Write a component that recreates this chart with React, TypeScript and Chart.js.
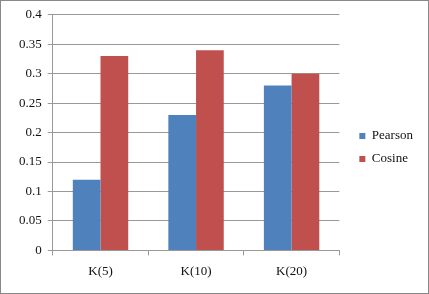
import React, { useEffect, useRef } from "react";
import { Chart, registerables } from "chart.js";

Chart.register(...registerables);

const categories = ["K(5)", "K(10)", "K(20)"];
const pearson = [0.12, 0.23, 0.28];
const cosine = [0.33, 0.34, 0.3];

const FAMILY = "'Liberation Serif', 'Times New Roman', serif";

const legendShift = {
  id: "legendShift",
  afterLayout(chart: any) {
    const lg = chart.legend;
    if (!lg) return;
    lg.left += 10;
    lg.right += 10;
    lg.top -= 2;
    lg.bottom -= 2;
  },
};

export default function App() {
  const ref = useRef<HTMLCanvasElement>(null);
  useEffect(() => {
    document.body.style.margin = "0";
    Chart.defaults.font.family = FAMILY;
    const font = { family: FAMILY, size: 13 };
    let chart: Chart | null = null;
    let cancelled = false;
    const make = () => {
      if (cancelled || chart) return;
      chart = new Chart(ref.current!, {
        type: "bar",
        data: {
          labels: categories,
          datasets: [
            { label: "Pearson", data: pearson, backgroundColor: "#4F81BD", categoryPercentage: 0.58, barPercentage: 1 },
            { label: "Cosine", data: cosine, backgroundColor: "#C0504D", categoryPercentage: 0.58, barPercentage: 1 },
          ],
        },
        plugins: [legendShift],
        options: {
          animation: false,
          responsive: false,
          layout: { padding: { top: 11, left: 12, right: 15, bottom: 6 } },
          plugins: {
            tooltip: { enabled: false },
            legend: {
              position: "right",
              labels: { boxWidth: 6, boxHeight: 6, color: "#111", font, padding: 10 },
            },
          },
          scales: {
            x: {
              grid: { drawOnChartArea: false, drawTicks: true, tickLength: 5, color: "#999" },
              border: { color: "#999" },
              ticks: { color: "#111", font, padding: 8 },
            },
            y: {
              min: 0,
              max: 0.4,
              ticks: { stepSize: 0.05, color: "#111", font, padding: 6, callback: (v: any) => String(Math.round(Number(v) * 100) / 100) },
              grid: { color: "#999", tickLength: 5 },
              border: { color: "#999" },
            },
          },
        },
      });
    };
    document.fonts.load("13px 'Liberation Serif'").then(make, make);
    return () => {
      cancelled = true;
      if (chart) chart.destroy();
    };
  }, []);
  return (
    <div style={{ width: 429, height: 294, position: "relative", boxSizing: "border-box", border: "1px solid #888", background: "#fff" }}>
      <canvas ref={ref} width={427} height={292} style={{ display: "block" }} />
    </div>
  );
}
